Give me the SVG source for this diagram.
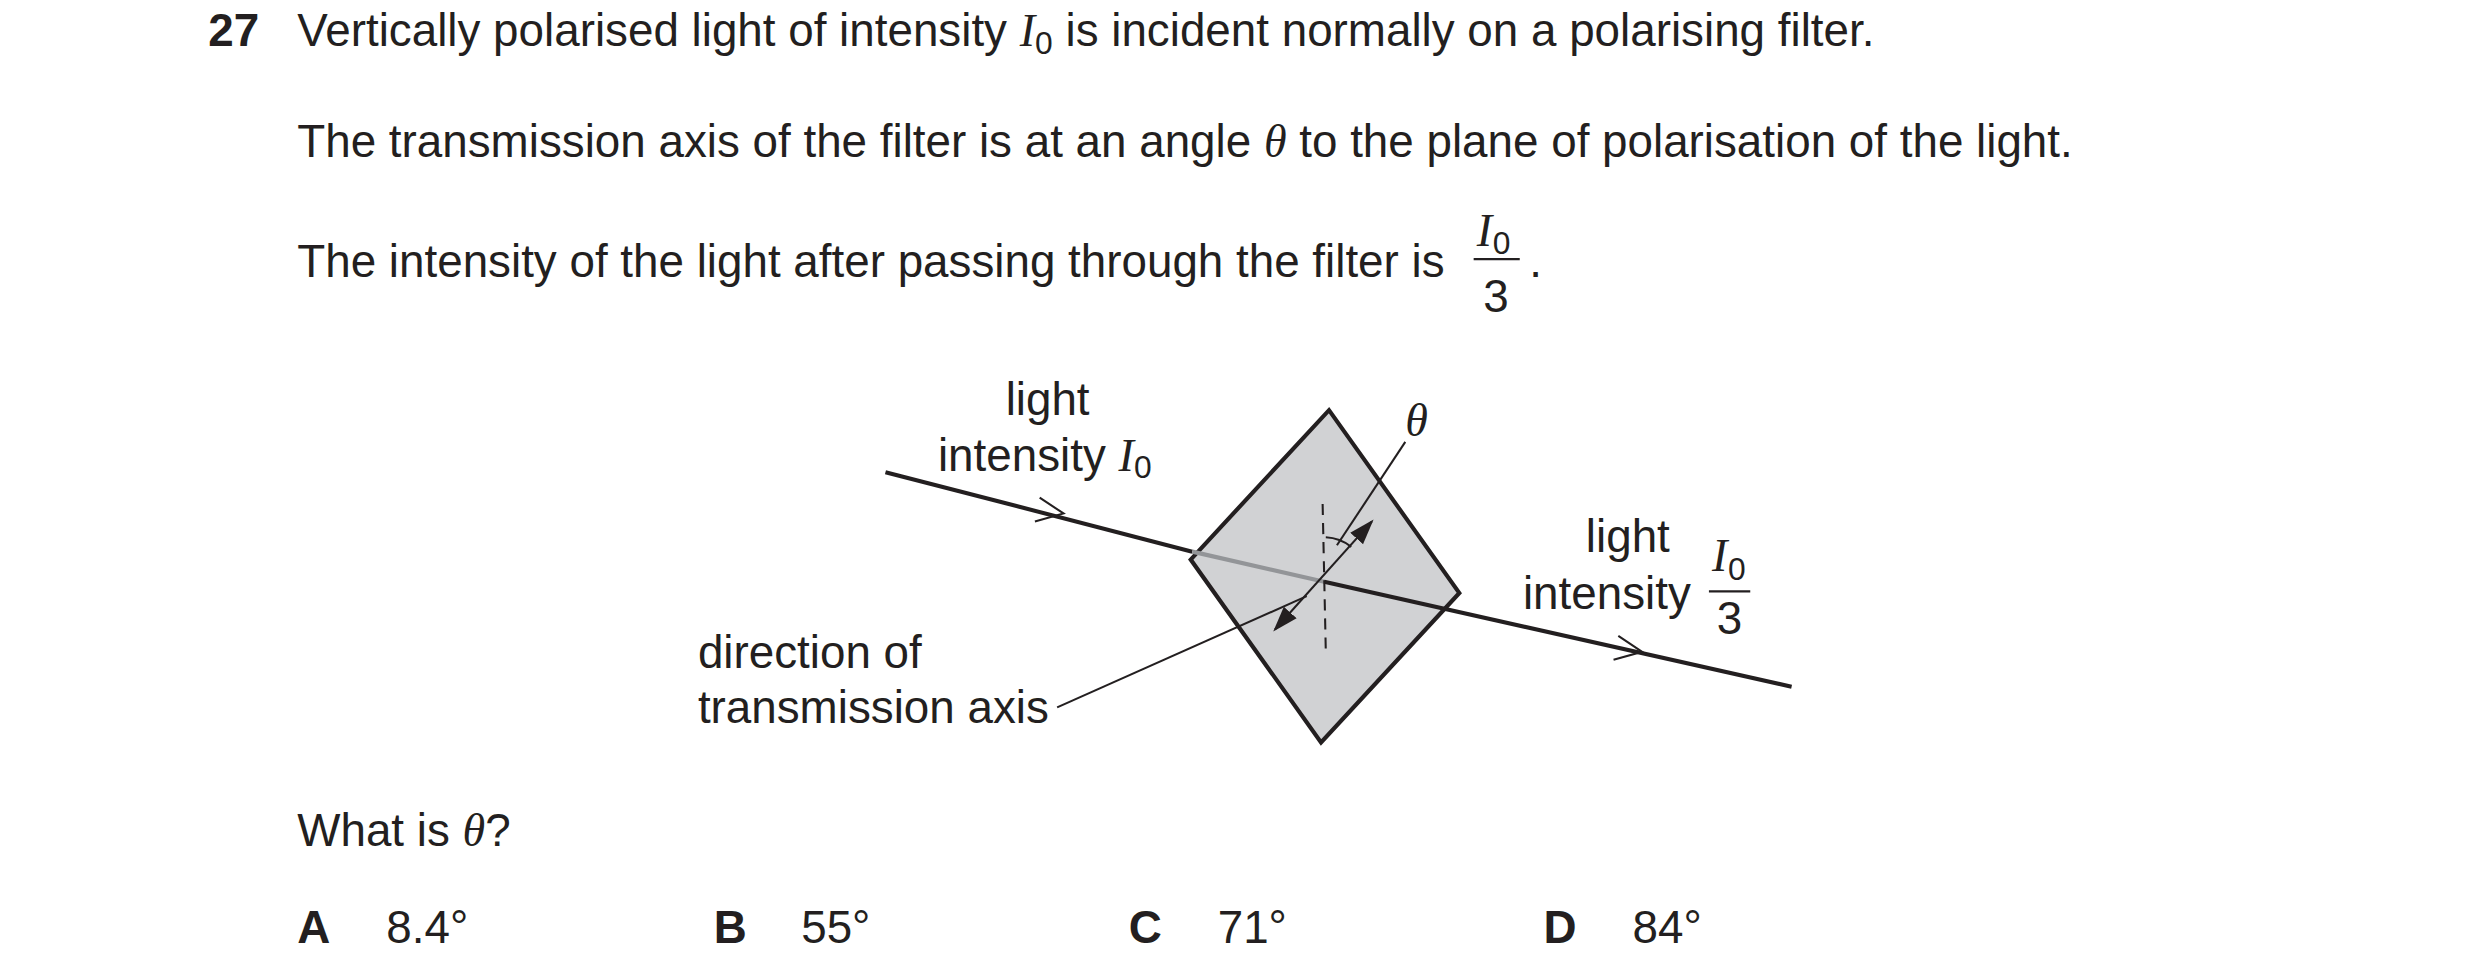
<svg xmlns="http://www.w3.org/2000/svg" width="2480" height="980" viewBox="0 0 2480 980">
<style>
text{font-family:"Liberation Sans",Arial,sans-serif;font-size:28.8px;fill:#231f20}
.b{font-weight:bold}
.i{font-family:"Liberation Serif","Times New Roman",serif;font-style:italic;font-size:29px}
.s{font-size:20px}
.ray{stroke:#231f20;stroke-width:2.6;fill:none}
.thin{stroke:#231f20;stroke-width:1.3;fill:none}
</style>
<defs>
<marker id="ah" viewBox="0 0 10 10" refX="9" refY="5" markerWidth="16" markerHeight="12" orient="auto-start-reverse" markerUnits="userSpaceOnUse" preserveAspectRatio="none"><path d="M0,0.5 L10,5 L0,9.5 z" fill="#231f20"/></marker>
</defs>
<rect width="2480" height="980" fill="#fff"/>
<g transform="scale(1.5897)">
<g id="question">
<text class="b" x="131" y="29">27</text>
<text x="187" y="29">Vertically polarised light of intensity <tspan class="i">I</tspan><tspan class="s" dy="5">0</tspan><tspan dy="-5"> is incident normally on a polarising filter.</tspan></text>
<text x="187" y="99">The transmission axis of the filter is at an angle <tspan class="i">θ</tspan> to the plane of polarisation of the light.</text>
<text x="187" y="174">The intensity of the light after passing through the filter is</text>
<text class="i" x="929" y="155">I</text><text class="s" x="939" y="160">0</text>
<line x1="927" y1="163" x2="956" y2="163" class="thin"/>
<text x="941" y="196" text-anchor="middle">3</text>
<text x="962" y="174">.</text>
</g>
<g id="filter">
<polygon points="836,258 918,373 831,467 749,352" fill="#d1d2d4" stroke="#231f20" stroke-width="2.6"/>
</g>
<g id="connectors">
<line x1="557" y1="297" x2="750" y2="347" class="ray"/>
<line x1="750" y1="347" x2="833" y2="366" stroke="#939598" stroke-width="2.6"/>
<line x1="833" y1="366" x2="1127" y2="432" class="ray"/>
<polyline points="654,313 669,323 651,328" class="thin" stroke-width="1.7"/>
<polyline points="1018,400 1033,410 1015,415" class="thin" stroke-width="1.7"/>
<line x1="832" y1="317" x2="834" y2="410" class="thin" stroke-dasharray="7,5"/>
<line x1="802" y1="396" x2="863" y2="328" class="thin" stroke-width="1.6" marker-start="url(#ah)" marker-end="url(#ah)"/>
<path d="M834,338 A28,28 0 0 1 850,344" class="thin" stroke-width="1.4"/>
<line x1="884" y1="278" x2="841" y2="343" class="thin"/>
<line x1="665" y1="445" x2="822" y2="375" class="thin"/>
</g>
<g id="labels">
<text x="659" y="261" text-anchor="middle">light</text>
<text x="590" y="296">intensity <tspan class="i">I</tspan><tspan class="s" dy="5">0</tspan></text>
<text class="i" x="884" y="274">θ</text>
<text x="1024" y="347" text-anchor="middle">light</text>
<text x="958" y="383">intensity</text>
<text class="i" x="1077" y="359">I</text><text class="s" x="1087" y="365">0</text>
<line x1="1075" y1="372" x2="1101" y2="372" class="thin"/>
<text x="1088" y="399" text-anchor="middle">3</text>
<text x="439" y="420">direction of</text>
<text x="439" y="455">transmission axis</text>
</g>
<g id="answers">
<text x="187" y="532">What is <tspan class="i">θ</tspan>?</text>
<text class="b" x="187" y="593">A</text><text x="243" y="593">8.4°</text>
<text class="b" x="449" y="593">B</text><text x="504" y="593">55°</text>
<text class="b" x="710" y="593">C</text><text x="766" y="593">71°</text>
<text class="b" x="971" y="593">D</text><text x="1027" y="593">84°</text>
</g>
</g>
</svg>
